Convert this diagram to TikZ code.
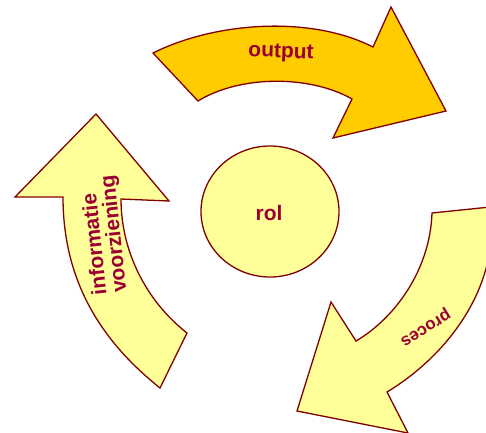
\documentclass[tikz,border=0pt]{standalone}
\usepackage{fontspec}
\setmainfont{Liberation Sans}
\usetikzlibrary{shapes.geometric}

\definecolor{outline}{RGB}{128,0,0}
\definecolor{wordred}{RGB}{153,0,51}
\definecolor{paleyellow}{RGB}{255,255,153}
\definecolor{gold}{RGB}{255,204,0}

\begin{document}
\begin{tikzpicture}[x=1pt, y=-1pt,
    bigarrow/.style={draw=outline, line width=1.3pt, line join=miter},
    looptext/.style={text=wordred, font=\bfseries\fontsize{21}{20}\selectfont, inner sep=0pt}]

    \useasboundingbox (0,0) rectangle (486,432);
    \clip (0,0) rectangle (486,432);

    % Top arrow: output
    \filldraw[bigarrow, fill=gold] (153,53) .. controls (215,22) and (310,15) .. (373,47)
        -- (391,7) -- (446,111) -- (333,138) -- (352,99)
        .. controls (310,75) and (240,75) .. (198,101) -- cycle;

    % Right arrow: proces
    \filldraw[bigarrow, fill=paleyellow] (432,213) -- (500,206) -- (500,225) -- (492,225)
        .. controls (492,300) and (440,360) .. (387,392)
        -- (408,433) -- (297,411) -- (331,302) -- (356,341)
        .. controls (395,318) and (430,270) .. (432,213) -- cycle;

    % Left arrow: informatie voorziening
    \filldraw[bigarrow, fill=paleyellow] (96,114) -- (169,201) -- (121,199)
        .. controls (121,250) and (145,300) .. (187,333)
        -- (160,388)
        .. controls (100,340) and (63,280) .. (63,197)
        -- (15,197) -- cycle;

    % Centre
    \node (rol) [ellipse, draw=outline, line width=1.3pt, fill=paleyellow,
        minimum width=138pt, minimum height=131pt, inner sep=0pt] at (270,211.5) {};
    \node (roltext) [looptext] at (269,213) {rol};

    % Labels on the arrows
    \node (output) [looptext, rotate=-2] at (281,53) {output};
    \node (proces) [looptext, font=\bfseries\fontsize{17}{17}\selectfont, rotate=212] at (425,327) {proces};
    \node (info) [looptext, align=left, rotate=96] at (105,235) {informatie\\voorziening};
\end{tikzpicture}
\end{document}
